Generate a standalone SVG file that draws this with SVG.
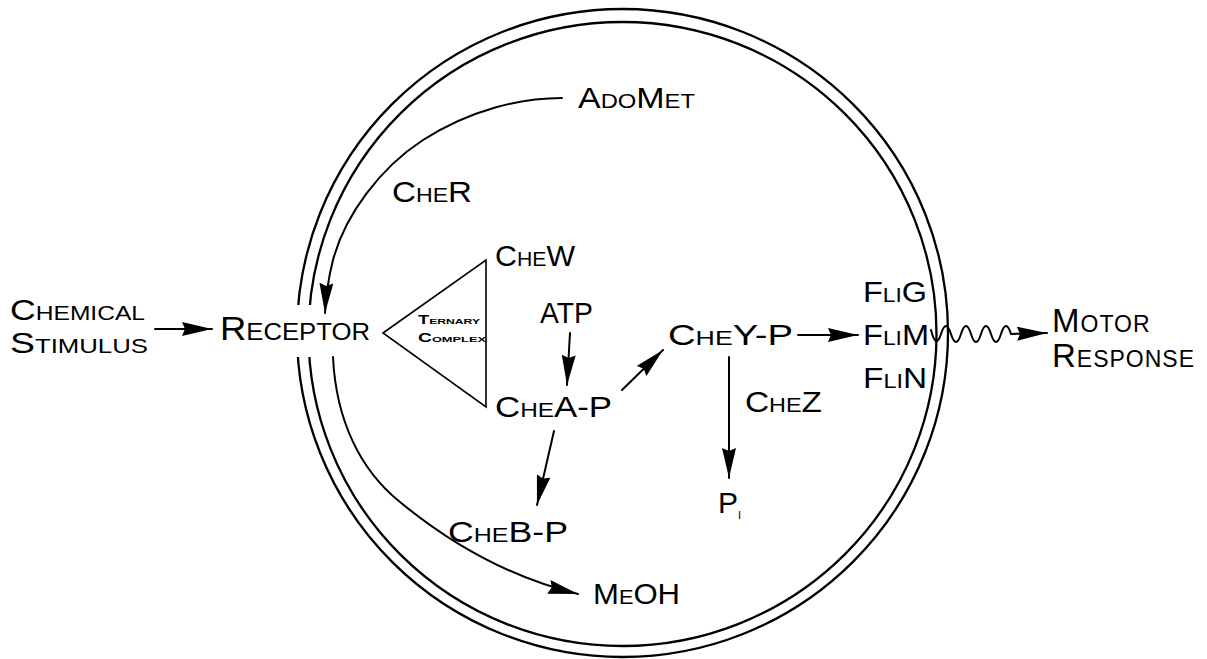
<svg xmlns="http://www.w3.org/2000/svg" width="1207" height="659" viewBox="0 0 1207 659">
<style>
.lbl{font-family:"Liberation Sans",Arial,sans-serif;font-variant:small-caps;fill:#000}
.big{font-size:34px}
.two{font-size:33px;letter-spacing:1px}
.cs{font-size:29px}
.med{font-size:30px}
.tiny{font-size:12px;font-weight:bold}
.ln{fill:none;stroke:#000;stroke-width:2;stroke-linecap:round}
.mem{fill:none;stroke:#000;stroke-width:2.3}
</style>
<defs>
<marker id="ah" viewBox="0 0 30 14" refX="30" refY="7" markerWidth="30" markerHeight="14" markerUnits="userSpaceOnUse" orient="auto">
<path d="M0,0 L30,7 L0,14 L3,7 z" fill="#000"/>
</marker>
</defs>
<rect width="1207" height="659" fill="#fff"/>
<g id="membrane">
<ellipse class="mem" cx="622.5" cy="333" rx="325.5" ry="324"/>
<ellipse class="mem" cx="622.5" cy="334" rx="314" ry="312"/>
<rect x="290" y="305" width="26" height="52" fill="#fff"/>
</g>
<g id="connectors">
<path class="ln" d="M562,98 C520,98 470,110 423,140 C380,168 345,215 333,260 C328,280 326,292 325,313" marker-end="url(#ah)"/>
<path class="ln" d="M333,357 C336,420 360,470 400,502 C440,535 500,575 578,594" marker-end="url(#ah)"/>
<line class="ln" x1="155" y1="329" x2="212" y2="329" marker-end="url(#ah)"/>
<line class="ln" x1="570" y1="333" x2="567" y2="385" marker-end="url(#ah)"/>
<line class="ln" x1="622" y1="390" x2="663" y2="350" marker-end="url(#ah)"/>
<line class="ln" x1="554" y1="431" x2="537" y2="505" marker-end="url(#ah)"/>
<line class="ln" x1="798" y1="335" x2="858" y2="335" marker-end="url(#ah)"/>
<line class="ln" x1="729" y1="357" x2="729" y2="478" marker-end="url(#ah)"/>
<path class="ln" d="M931,330 Q936,350 941,334 Q946,318 951,334 Q956,350 961,334 Q966,318 971,334 Q976,350 981,334 Q986,318 991,334 Q996,350 1001,334 Q1006,318 1011,334 L1047,333" marker-end="url(#ah)"/>
</g>
<g id="chemical-stimulus">
<text class="lbl cs" x="10" y="320" textLength="135" lengthAdjust="spacingAndGlyphs">Chemical</text>
<text class="lbl cs" x="10" y="353" textLength="138" lengthAdjust="spacingAndGlyphs">Stimulus</text>
</g>
<g id="receptor">
<text class="lbl big" x="220" y="340" textLength="150" lengthAdjust="spacingAndGlyphs">Receptor</text>
</g>
<g id="ternary-complex">
<polygon points="383,333 486,260 486,407" fill="none" stroke="#000" stroke-width="1.6"/>
<text class="lbl tiny" x="418" y="324" textLength="62" lengthAdjust="spacingAndGlyphs">Ternary</text>
<text class="lbl tiny" x="418" y="342" textLength="68" lengthAdjust="spacingAndGlyphs">Complex</text>
</g>
<g id="adomet"><text class="lbl med" x="578" y="108" textLength="117" lengthAdjust="spacingAndGlyphs">AdoMet</text></g>
<g id="cher"><text class="lbl med" x="392" y="202" textLength="80" lengthAdjust="spacingAndGlyphs">CheR</text></g>
<g id="chew"><text class="lbl med" x="495" y="266" textLength="80" lengthAdjust="spacingAndGlyphs">CheW</text></g>
<g id="atp"><text class="lbl med" x="540" y="323" textLength="53" lengthAdjust="spacingAndGlyphs">ATP</text></g>
<g id="chea-p"><text class="lbl med" x="495" y="417" textLength="117" lengthAdjust="spacingAndGlyphs">CheA-P</text></g>
<g id="chey-p"><text class="lbl med" x="668" y="345" textLength="125" lengthAdjust="spacingAndGlyphs">CheY-P</text></g>
<g id="cheb-p"><text class="lbl med" x="448" y="542" textLength="120" lengthAdjust="spacingAndGlyphs">CheB-P</text></g>
<g id="chez"><text class="lbl med" x="745" y="412" textLength="77" lengthAdjust="spacingAndGlyphs">CheZ</text></g>
<g id="pi"><text class="lbl med" x="718" y="513">P<tspan font-size="15" dy="6">i</tspan></text></g>
<g id="meoh"><text class="lbl med" x="593" y="604" textLength="87" lengthAdjust="spacingAndGlyphs">MeOH</text></g>
<g id="flig"><text class="lbl med" x="863" y="302" textLength="64" lengthAdjust="spacingAndGlyphs">FliG</text></g>
<g id="flim"><text class="lbl med" x="863" y="345" textLength="66" lengthAdjust="spacingAndGlyphs">FliM</text></g>
<g id="flin"><text class="lbl med" x="863" y="388" textLength="64" lengthAdjust="spacingAndGlyphs">FliN</text></g>
<g id="motor-response">
<text class="lbl two" x="1052" y="332">Motor<tspan x="1052" y="367">Response</tspan></text>
</g>
</svg>
